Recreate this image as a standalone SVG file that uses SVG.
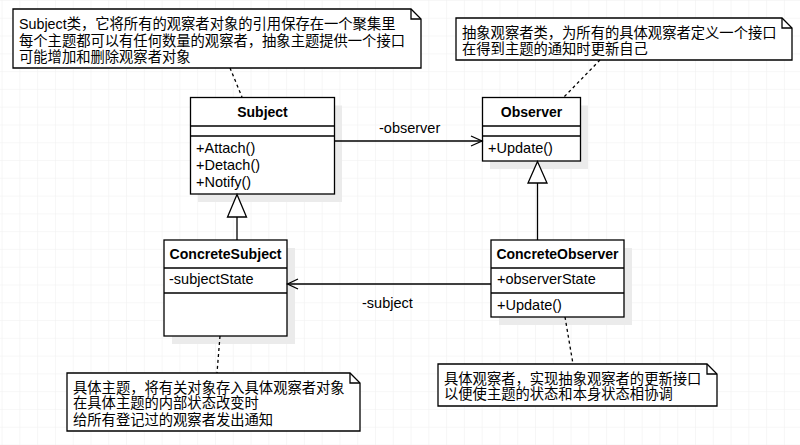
<svg xmlns="http://www.w3.org/2000/svg" width="800" height="445" viewBox="0 0 800 445">
<style>
.box{fill:#fff;stroke:#000;stroke-width:1.3}
.shadow{fill:#ebebeb;stroke:none}
.div{stroke:#000;stroke-width:1.3}
.note{fill:#fff;stroke:#000;stroke-width:1.3}
.fold{fill:none;stroke:#000;stroke-width:1.3}
.t{font-family:"Liberation Sans","Noto Sans CJK SC",Arial,sans-serif;font-size:14.3px;fill:#000}
.b{font-family:"Liberation Sans",Arial,sans-serif;font-size:14px;font-weight:bold;fill:#000}
.m{font-family:"Liberation Sans",Arial,sans-serif;font-size:14.5px;fill:#000}
.line{fill:none;stroke:#000;stroke-width:1.3}
.dash{fill:none;stroke:#000;stroke-width:1.3;stroke-dasharray:3,3}
.tri{fill:#fff;stroke:#000;stroke-width:1.3}
</style>
<defs>
<pattern id="grid" x="1.6" y="0" width="17.78" height="17.78" patternUnits="userSpaceOnUse">
<path d="M0,0H17.78M0,0V17.78" fill="none" stroke="#f0f0f0" stroke-width="1.2"/>
</pattern>
</defs>
<rect x="0" y="0" width="800" height="445" fill="#fff"/>
<rect x="0" y="0" width="800" height="445" fill="url(#grid)"/>

<g id="note-subject">
<path class="note" d="M13,9H411L421,19V68H13Z"/>
<path class="fold" d="M411,9V19H421"/>
<text class="t" x="19" y="29">Subject类，它将所有的观察者对象的引用保存在一个聚集里</text>
<text class="t" x="19" y="45.5">每个主题都可以有任何数量的观察者，抽象主题提供一个接口</text>
<text class="t" x="19" y="61.5">可能增加和删除观察者对象</text>
</g>

<g id="note-observer">
<path class="note" d="M456,18H782L792,28V60H456Z"/>
<path class="fold" d="M782,18V28H792"/>
<text class="t" x="462" y="38">抽象观察者类，为所有的具体观察者定义一个接口</text>
<text class="t" x="462" y="53.5">在得到主题的通知时更新自己</text>
</g>

<g id="note-concretesubject">
<path class="note" d="M67,373H350L360,383V431H67Z"/>
<path class="fold" d="M350,373V383H360"/>
<text class="t" x="73" y="392.5">具体主题，将有关对象存入具体观察者对象</text>
<text class="t" x="73" y="408">在具体主题的内部状态改变时</text>
<text class="t" x="73" y="424.5">给所有登记过的观察者发出通知</text>
</g>

<g id="note-concreteobserver">
<path class="note" d="M438,364H707L717,374V406H438Z"/>
<path class="fold" d="M707,364V374H717"/>
<text class="t" x="444" y="383.5">具体观察者，实现抽象观察者的更新接口</text>
<text class="t" x="444" y="399">以便使主题的状态和本身状态相协调</text>
</g>

<g id="subject">
<rect class="shadow" x="198" y="105.5" width="144" height="96.5"/>
<rect class="box" x="190.5" y="97.5" width="144" height="96.5"/>
<line class="div" x1="190.5" y1="126" x2="334.5" y2="126"/>
<line class="div" x1="190.5" y1="136" x2="334.5" y2="136"/>
<text class="b" x="262.5" y="117" text-anchor="middle">Subject</text>
<text class="m" x="196" y="153">+Attach()</text>
<text class="m" x="196" y="170">+Detach()</text>
<text class="m" x="196" y="187">+Notify()</text>
</g>

<g id="observer">
<rect class="shadow" x="490" y="105.5" width="98" height="63.5"/>
<rect class="box" x="482.5" y="97.5" width="98" height="63.5"/>
<line class="div" x1="482.5" y1="126" x2="580.5" y2="126"/>
<line class="div" x1="482.5" y1="136" x2="580.5" y2="136"/>
<text class="b" x="531.5" y="117" text-anchor="middle">Observer</text>
<text class="m" x="488" y="153">+Update()</text>
</g>

<g id="concretesubject">
<rect class="shadow" x="172" y="248" width="123" height="96"/>
<rect class="box" x="164" y="240" width="123" height="96"/>
<line class="div" x1="164" y1="268" x2="287" y2="268"/>
<line class="div" x1="164" y1="293" x2="287" y2="293"/>
<text class="b" x="225.5" y="259" text-anchor="middle" textLength="112" lengthAdjust="spacingAndGlyphs">ConcreteSubject</text>
<text class="m" x="169" y="284">-subjectState</text>
</g>

<g id="concreteobserver">
<rect class="shadow" x="499" y="248" width="133" height="77"/>
<rect class="box" x="491" y="240" width="133" height="77"/>
<line class="div" x1="491" y1="268" x2="624" y2="268"/>
<line class="div" x1="491" y1="293" x2="624" y2="293"/>
<text class="b" x="557.5" y="259" text-anchor="middle">ConcreteObserver</text>
<text class="m" x="497" y="284">+observerState</text>
<text class="m" x="497" y="310">+Update()</text>
</g>

<g id="connectors">
<line class="dash" x1="230" y1="68" x2="242" y2="97"/>
<line class="dash" x1="600" y1="60" x2="564" y2="97"/>
<line class="dash" x1="220" y1="336" x2="217" y2="373"/>
<line class="dash" x1="565" y1="317" x2="573" y2="364"/>
<line class="line" x1="334.5" y1="141" x2="482" y2="141"/>
<polyline class="line" points="471,136 482,141 471,146"/>
<text class="m" x="379" y="133">-observer</text>
<line class="line" x1="491" y1="284" x2="287.5" y2="284"/>
<polyline class="line" points="298,279 287.5,284 298,289"/>
<text class="m" x="362" y="308">-subject</text>
<line class="line" x1="237" y1="240" x2="237" y2="217"/>
<polygon class="tri" points="237,194.5 227.5,217 246.5,217"/>
<line class="line" x1="537.5" y1="240" x2="537.5" y2="183"/>
<polygon class="tri" points="537.5,161.5 528,183 547,183"/>
</g>
</svg>
